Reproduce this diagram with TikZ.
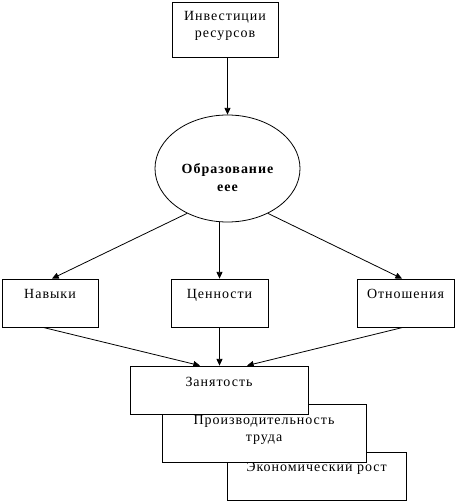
\documentclass[tikz,border=0pt]{standalone}
\usepackage{fontspec}
\setmainfont{Liberation Serif}[LetterSpace=7]
\usetikzlibrary{arrows.meta,shapes.geometric}
\begin{document}
\begin{tikzpicture}[x=0.75pt,y=-0.75pt,
  box/.style={draw, line width=0.6pt, fill=white, rectangle, inner sep=0pt},
  oval/.style={draw, line width=0.6pt, fill=white, ellipse, inner sep=0pt},
  txt/.style={font=\fontsize{10.5pt}{12.75pt}\selectfont, align=center, inner sep=0pt, anchor=base},
  btxt/.style={font=\fontsize{10.5pt}{13.5pt}\selectfont\bfseries, align=center, inner sep=0pt, anchor=base},
  arr/.style={-{Triangle[length=5pt,width=4.5pt]}, line width=0.6pt},
  ln/.style={line width=0.6pt}]
\useasboundingbox (0,0) rectangle (456,502);

% top box
\node[box, minimum width=79.5pt, minimum height=41.25pt] (inv) at (225,29.5) {};
\node[txt] (invt) at ([yshift=-27.25pt]inv.north) {Инвестиции\\ресурсов};

% ellipse
\node[oval, minimum width=108.75pt, minimum height=80.25pt] (ell) at (227.5,168.5) {};
\node[btxt] (ellt) at ([yshift=-17.6pt]ell.center) {Образование\\eee};

% middle row
\node[box, minimum width=72pt, minimum height=36pt] (nav) at (50,303) {};
\node[txt] (navt) at ([yshift=-15pt]nav.north) {Навыки};
\node[box, minimum width=72.75pt, minimum height=36pt] (cen) at (219.5,303) {};
\node[txt] (cent) at ([yshift=-15pt]cen.north) {Ценности};
\node[box, minimum width=72.75pt, minimum height=36pt] (otn) at (405.5,303) {};
\node[txt] (otnt) at ([yshift=-15pt]otn.north) {Отношения};

% stacked boxes (back to front)
\node[box, minimum width=134.25pt, minimum height=36pt] (eco) at (316.5,476) {};
\node[txt] (ecot) at ([yshift=-15pt]eco.north) {Экономический рост};
\node[box, minimum width=153pt, minimum height=43.5pt] (pro) at (264,433) {};
\node[txt] (prot) at ([yshift=-28.25pt]pro.north) {Производительность\\труда};
\node[box, minimum width=133.5pt, minimum height=36pt] (zan) at (219,390) {};
\node[txt] (zant) at ([yshift=-15.5pt]zan.north) {Занятость};

% connectors
\draw[arr] (inv.south -| ell.north) -- (ell.north);
\draw[arr] (ell.-132) -- ([xshift=1.5pt]nav.north);
\draw[arr] (ell.south -| cen.north) -- (cen.north);
\draw[arr] (ell.-48) -- ([xshift=-2.6pt]otn.north);
\draw[arr] ([xshift=-5.2pt]nav.south) -- ([xshift=-14.25pt]zan.north);
\draw[arr] (cen.south) -- (cen.south |- zan.north);
\draw[arr] ([xshift=-1.9pt]otn.south) -- ([xshift=21pt]zan.north);
\end{tikzpicture}
\end{document}
